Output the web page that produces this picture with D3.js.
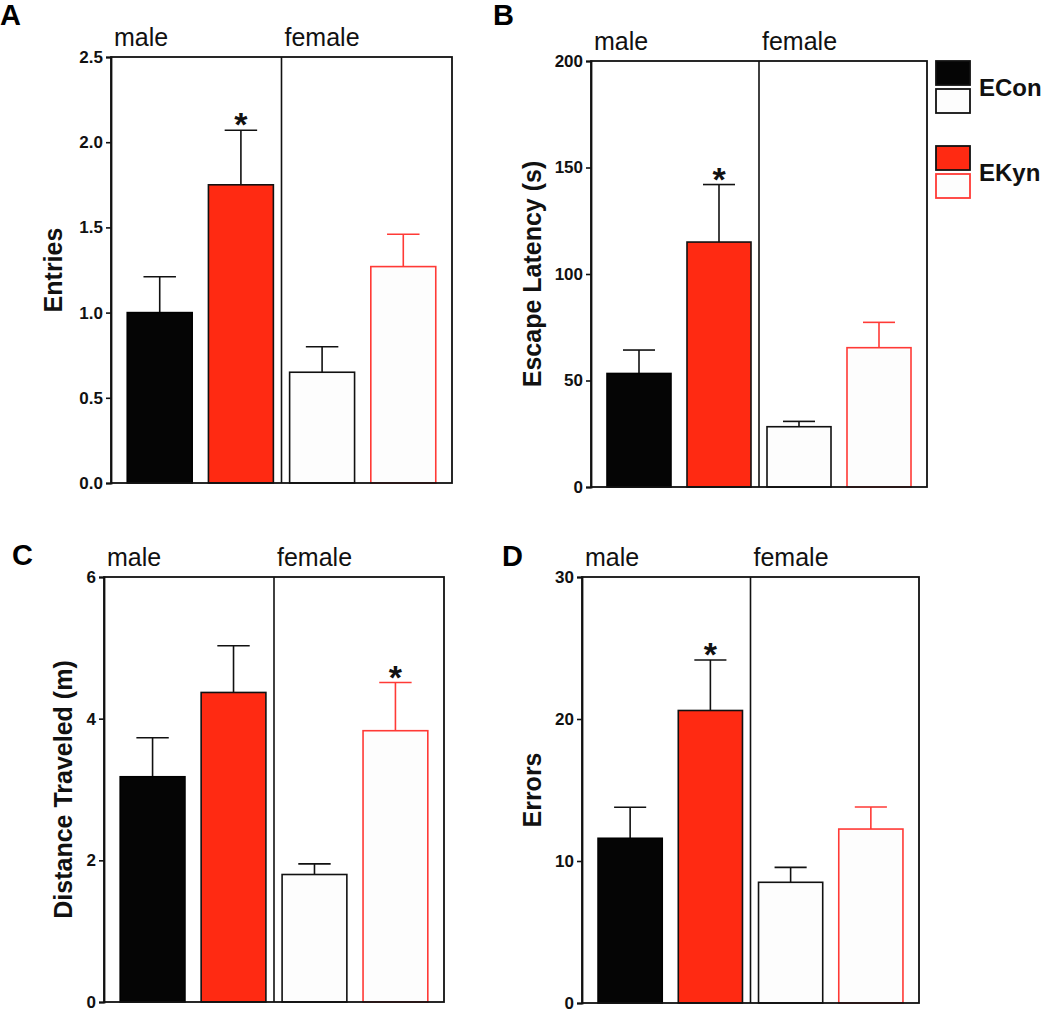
<!DOCTYPE html>
<html><head><meta charset="utf-8">
<script src="https://cdn.jsdelivr.net/npm/d3@7"></script>
<style>
body{margin:0;background:#fff;}
svg{display:block;font-family:"Liberation Sans",Arial,sans-serif;}
</style></head>
<body>
<svg id="chart" width="1050" height="1009"></svg>
<script>
// ---- data ----
const groups = ["male", "female"];
const conditions = ["ECon", "EKyn"];
const barKeys = ["male ECon", "male EKyn", "female ECon", "female EKyn"];

const entries = [1.00, 1.75, 0.65, 1.27];
const entriesErr = [0.21, 0.32, 0.15, 0.19];
const entriesTicks = [0, 0.5, 1.0, 1.5, 2.0, 2.5];

const latency = [53.3, 115, 28.3, 65.4];
const latencyErr = [11, 27, 2.5, 11.9];
const latencyTicks = [0, 50, 100, 150, 200];

const distance = [3.18, 4.37, 1.80, 3.83];
const distanceErr = [0.55, 0.66, 0.15, 0.68];
const distanceTicks = [0, 2, 4, 6];

const errors = [11.6, 20.6, 8.5, 12.25];
const errorsErr = [2.18, 3.56, 1.05, 1.55];
const errorsTicks = [0, 10, 20, 30];

const RED = "#ff2a12";
const RED_LINE = "#ff3a36";
const svg = d3.select("#chart");

const fills = [ "#050505", RED, "#fdfdfd", "#fdfdfd" ];
const strokes = [ "#000", "#111", "#111", RED_LINE ];
const errColors = [ "#111", "#111", "#111", RED_LINE ];

function panel(cfg) {
  const {L, R, T, B, values, errs, ticks, fmt, title, titleX, letter, lx, ly, stars} = cfg;
  const g = svg.append("g");
  const x = d3.scaleBand().domain(d3.range(values.length)).range([L, R])
    .paddingInner(0.2).paddingOuter(0.2);
  const y = d3.scaleLinear().domain([ticks[0], ticks[ticks.length - 1]]).range([B, T]);

  const cap = x.bandwidth() * 0.25;
  values.forEach((v, i) => {
    const cx = x(i) + x.bandwidth() / 2;
    const eg = g.append("g").attr("stroke", errColors[i]).attr("stroke-width", 1.6);
    eg.append("line").attr("x1", cx).attr("x2", cx).attr("y1", y(v)).attr("y2", y(v + errs[i]));
    eg.append("line").attr("x1", cx - cap).attr("x2", cx + cap).attr("y1", y(v + errs[i])).attr("y2", y(v + errs[i]));
  });

  g.selectAll("rect.bar").data(values).join("rect")
    .attr("class", "bar")
    .attr("x", (d, i) => x(i))
    .attr("width", x.bandwidth())
    .attr("y", d => y(d))
    .attr("height", d => y(0) - y(d))
    .attr("fill", (d, i) => fills[i])
    .attr("stroke", (d, i) => strokes[i])
    .attr("stroke-width", 1.6);

  g.append("rect").attr("x", L).attr("y", T).attr("width", R - L).attr("height", B - T)
    .attr("fill", "none").attr("stroke", "#111").attr("stroke-width", 1.8);
  const mid = (x(1) + x.bandwidth() + x(2)) / 2;
  g.append("line").attr("x1", mid).attr("x2", mid).attr("y1", T).attr("y2", B)
    .attr("stroke", "#111").attr("stroke-width", 1.6);

  const ax = g.append("g").attr("transform", `translate(${L},0)`)
    .call(d3.axisLeft(y).tickValues(ticks).tickFormat(fmt).tickSize(5).tickPadding(3));
  ax.select(".domain").attr("stroke", "#111").attr("stroke-width", 1.8);
  ax.selectAll(".tick line").attr("stroke", "#111").attr("stroke-width", 1.6);
  ax.selectAll(".tick text").attr("font-size", 17).attr("font-weight", "bold")
    .attr("fill", "#111").attr("font-family", "Liberation Sans, Arial, sans-serif");

  g.append("text").attr("transform", `translate(${titleX},${(T + B) / 2}) rotate(-90)`)
    .attr("text-anchor", "middle").attr("font-size", 25).attr("font-weight", "bold")
    .attr("fill", "#111").text(title);

  g.append("text").attr("x", L + 3).attr("y", T - 11).attr("font-size", 25).attr("fill", "#111").text(groups[0]);
  g.append("text").attr("x", mid + 3).attr("y", T - 11).attr("font-size", 25).attr("fill", "#111").text(groups[1]);

  stars.forEach(i => {
    const cx = x(i) + x.bandwidth() / 2;
    g.append("text").attr("x", cx).attr("y", y(values[i] + errs[i]) + 6)
      .attr("text-anchor", "middle").attr("font-size", 34).attr("font-weight", "bold")
      .attr("fill", "#111").text("*");
  });

  svg.append("text").attr("x", lx).attr("y", ly).attr("font-size", 29).attr("font-weight", "bold")
    .attr("fill", "#000").text(letter);
}

panel({L: 111, R: 452, T: 57, B: 483, values: entries, errs: entriesErr, ticks: entriesTicks,
  fmt: d3.format(".1f"), title: "Entries", titleX: 61.5, letter: "A", lx: 0, ly: 25, stars: [1]});
panel({L: 591, R: 927, T: 61, B: 487, values: latency, errs: latencyErr, ticks: latencyTicks,
  fmt: d3.format("d"), title: "Escape Latency (s)", titleX: 540.5, letter: "B", lx: 493, ly: 25, stars: [1]});
panel({L: 104, R: 444, T: 577, B: 1002, values: distance, errs: distanceErr, ticks: distanceTicks,
  fmt: d3.format("d"), title: "Distance Traveled (m)", titleX: 71.5, letter: "C", lx: 12, ly: 565, stars: [3]});
panel({L: 582, R: 919, T: 577, B: 1003, values: errors, errs: errorsErr, ticks: errorsTicks,
  fmt: d3.format("d"), title: "Errors", titleX: 540.5, letter: "D", lx: 502, ly: 566, stars: [1]});

const legendItems = [
  {label: conditions[0], boxes: [{fill: "#050505", stroke: "#111"}, {fill: "#fdfdfd", stroke: "#111"}], y: 61},
  {label: conditions[1], boxes: [{fill: RED, stroke: "#111"}, {fill: "#fdfdfd", stroke: RED_LINE}], y: 146}
];
const lg = svg.append("g");
legendItems.forEach(it => {
  it.boxes.forEach((b, j) => {
    lg.append("rect").attr("x", 936).attr("y", it.y + j * 28).attr("width", 34).attr("height", 24)
      .attr("fill", b.fill).attr("stroke", b.stroke).attr("stroke-width", 1.8);
  });
  lg.append("text").attr("x", 979).attr("y", it.y + 34.5).attr("font-size", 24).attr("font-weight", "bold")
    .attr("fill", "#111").text(it.label);
});
</script>
</body></html>
